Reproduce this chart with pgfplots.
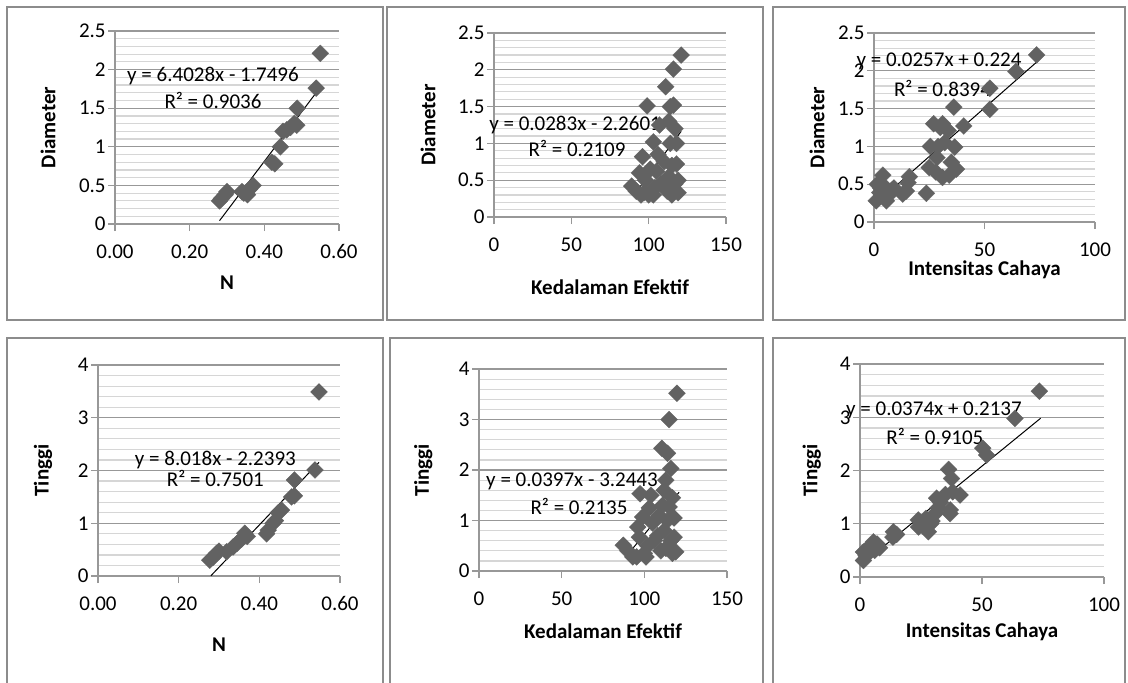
\documentclass[border=0pt]{standalone}
\usepackage{fontspec}
\setmainfont{Carlito}
\usepackage{pgfplots}
\pgfplotsset{compat=1.18}

\definecolor{mk}{HTML}{626262}
\definecolor{gmaj}{HTML}{989898}
\definecolor{gmin}{HTML}{D6D6D6}
\definecolor{frm}{HTML}{8C8C8C}

\newcommand\txt{\fontsize{10.5}{12}\selectfont}

\pgfplotsset{
  excel/.style={
    scale only axis, clip=false, anchor=south west,
    axis x line*=bottom, axis y line*=left,
    axis line style={draw=gmaj, line width=0.6pt, -},
    ymajorgrids, yminorgrids,
    major grid style={draw=gmaj, line width=0.6pt},
    minor grid style={draw=gmin, line width=0.6pt},
    tick align=outside, major tick length=3.5pt, minor tick length=0pt,
    tick style={draw=gmaj, line width=0.6pt},
    every tick label/.append style={font=\txt, text=black},
    /pgf/number format/assume math mode=true,
    xticklabel style={anchor=north, inner sep=0pt, yshift=-6.5pt},
    yticklabel style={anchor=east, inner sep=0pt, xshift=-1pt},
    label style={font=\txt\bfseries},
    xlabel style={anchor=center},
    ylabel style={anchor=center},
  },
  nx/.style={xmin=0, xmax=0.6, xtick={0,0.2,0.4,0.6},
    x tick label style={/pgf/number format/.cd, fixed, fixed zerofill, precision=2},
    xlabel={N}},
  kx/.style={xmin=0, xmax=150, xtick={0,50,100,150}, xlabel={Kedalaman Efektif}},
  ix/.style={xmin=0, xmax=100, xtick={0,50,100}, xlabel={Intensitas Cahaya}},
  dy/.style={ymin=0, ymax=2.5, ytick={0,0.5,1,1.5,2,2.5}, minor y tick num=4, ylabel={Diameter}},
  ty/.style={ymin=0, ymax=4, ytick={0,1,2,3,4}, minor y tick num=4, ylabel={Tinggi}},
  pts/.style={only marks, mark=square*, mark size=3pt,
    mark options={rotate=45, fill=mk, draw=mk, line width=0.1pt}},
  fit/.style={black, line width=0.5pt, no marks},
}

\begin{document}
\begin{tikzpicture}
\path[use as bounding box] (0,0) rectangle (564pt,-341pt);
% panel frames
\draw[frm, line width=1pt] (3.5pt,-3.5pt) rectangle (191.5pt,-160pt);
\draw[frm, line width=1pt] (193.5pt,-3.5pt) rectangle (381.5pt,-160pt);
\draw[frm, line width=1pt] (386.5pt,-3.5pt) rectangle (562.5pt,-160pt);
\draw[frm, line width=1pt] (3.5pt,-169pt) rectangle (191.5pt,-350pt);
\draw[frm, line width=1pt] (195pt,-169pt) rectangle (381.5pt,-350pt);
\draw[frm, line width=1pt] (386.5pt,-169pt) rectangle (562.5pt,-350pt);

% N vs Diameter
\begin{axis}[excel, nx, dy, at={(57.5pt,-112pt)}, width=112pt, height=96.5pt,
  xlabel style={at={(axis description cs:0.5,-0.306)}},
  ylabel style={at={(axis description cs:-0.299,0.5)}}]
\addplot[pts] coordinates {
  (0.280,0.30) (0.285,0.33) (0.295,0.38) (0.300,0.42) (0.340,0.42)
  (0.345,0.40) (0.355,0.38) (0.360,0.45) (0.370,0.50) (0.420,0.80)
  (0.428,0.78) (0.443,1.00) (0.450,1.20) (0.460,1.22) (0.470,1.25)
  (0.480,1.30) (0.487,1.28) (0.488,1.50) (0.539,1.76) (0.550,2.21)};
\addplot[fit] coordinates {(0.28,0.043) (0.55,1.772)};
\node[font=\txt] at (axis cs:0.2625,1.917) {y = 6.4028x - 1.7496};
\node[font=\txt] at (axis cs:0.2625,1.606) {R² = 0.9036};
\end{axis}

% Kedalaman Efektif vs Diameter
\begin{axis}[excel, kx, dy, at={(247pt,-108.5pt)}, width=116pt, height=92pt,
  xlabel style={at={(axis description cs:0.5,-0.380)}},
  ylabel style={at={(axis description cs:-0.284,0.5)}}]
\addplot[pts] coordinates {
  (89,0.42) (92,0.35) (94,0.60) (95,0.30) (96,0.82) (97,0.33) (98,0.50)
  (99,1.51) (100,0.30) (101,0.65) (103,1.02) (103,0.30) (104,0.40)
  (105,0.62) (106,0.85) (107,1.25) (108,0.45) (110,0.75) (111,1.77)
  (112,0.35) (113,1.30) (113,0.55) (114,1.50) (114,1.00) (115,0.70)
  (115,0.30) (116,2.01) (116,1.52) (117,1.20) (117,0.45) (118,1.00)
  (118,0.72) (119,0.33) (119,0.50) (121,2.20)};
\addplot[fit] coordinates {(91,0.315) (121,1.164)};
\node[font=\txt] at (axis cs:52.4,1.25) {y = 0.0283x - 2.2601};
\node[font=\txt] at (axis cs:53.7,0.9375) {R² = 0.2109};
\end{axis}

% Intensitas Cahaya vs Diameter
\begin{axis}[excel, ix, dy, at={(437pt,-111pt)}, width=110.5pt, height=94.5pt,
  xlabel style={at={(axis description cs:0.5,-0.255)}},
  ylabel style={at={(axis description cs:-0.258,0.5)}}]
\addplot[pts] coordinates {
  (1,0.28) (1.5,0.50) (2.6,0.39) (3,0.45) (4,0.62) (4,0.49) (5.6,0.28)
  (6.5,0.35) (8,0.42) (9,0.45) (13,0.37) (14.6,0.41) (15.4,0.52) (16,0.60)
  (23.7,0.38) (25,0.72) (25.5,1.00) (27,1.30) (28,0.66) (28.5,0.85)
  (29,1.00) (30,1.25) (31,0.59) (31,1.30) (32,1.05) (33.5,1.21) (34,0.62)
  (35,0.79) (36.1,1.52) (36.5,0.99) (37.3,0.70) (40.6,1.27) (52.4,1.49)
  (52.4,1.77) (64.2,1.99) (73.6,2.21)};
\addplot[fit] coordinates {(1,0.2497) (74,2.126)};
\node[font=\txt] at (axis cs:29.4,2.12) {y = 0.0257x + 0.224};
\node[font=\txt] at (axis cs:31,1.77) {R² = 0.8394};
\end{axis}

% N vs Tinggi
\begin{axis}[excel, nx, ty, at={(49pt,-288pt)}, width=121pt, height=105.5pt,
  xlabel style={at={(axis description cs:0.5,-0.327)}},
  ylabel style={at={(axis description cs:-0.227,0.5)}}]
\addplot[pts] coordinates {
  (0.277,0.30) (0.285,0.35) (0.294,0.43) (0.300,0.47) (0.319,0.46)
  (0.335,0.55) (0.345,0.62) (0.356,0.70) (0.364,0.81) (0.370,0.75)
  (0.418,0.80) (0.422,0.87) (0.434,1.00) (0.440,1.05) (0.447,1.20)
  (0.455,1.25) (0.480,1.50) (0.487,1.52) (0.487,1.82) (0.538,2.01)
  (0.548,3.49)};
\addplot[fit] coordinates {(0.28,0.0057) (0.548,2.155)};
\node[font=\txt] at (axis cs:0.291,2.20) {y = 8.018x - 2.2393};
\node[font=\txt] at (axis cs:0.291,1.852) {R² = 0.7501};
\end{axis}

% Kedalaman Efektif vs Tinggi
\begin{axis}[excel, kx, ty, at={(239.5pt,-285.5pt)}, width=124pt, height=101pt,
  xlabel style={at={(axis description cs:0.5,-0.300)}},
  ylabel style={at={(axis description cs:-0.225,0.5)}}]
\addplot[pts] coordinates {
  (87.3,0.51) (90,0.40) (93,0.28) (95.4,0.28) (96,0.87) (97,0.67)
  (97.4,1.53) (99,1.07) (100,0.35) (101,0.28) (102,0.50) (103,1.25)
  (104,1.50) (105,0.95) (106,0.60) (108,0.70) (109,1.10) (110,0.40)
  (110.6,2.43) (111,1.30) (112,0.80) (112,1.60) (113,0.45) (113,1.80)
  (114,1.00) (114,2.33) (115,3.00) (115,1.27) (116,0.60) (116,2.03)
  (117,1.45) (117,0.35) (118,1.05) (118,0.67) (119,0.38) (119.7,3.52)};
\addplot[fit] coordinates {(90,0.329) (121,1.559)};
\node[font=\txt] at (axis cs:56.25,1.768) {y = 0.0397x - 3.2443};
\node[font=\txt] at (axis cs:60.5,1.273) {R² = 0.2135};
\end{axis}

% Intensitas Cahaya vs Tinggi
\begin{axis}[excel, ix, ty, at={(430pt,-288.5pt)}, width=122pt, height=106.5pt,
  xlabel style={at={(axis description cs:0.5,-0.257)}},
  ylabel style={at={(axis description cs:-0.198,0.5)}}]
\addplot[pts] coordinates {
  (1.4,0.31) (1.4,0.47) (2.5,0.40) (3.5,0.55) (4.5,0.60) (5.5,0.66)
  (6,0.50) (7,0.62) (8,0.55) (13.7,0.85) (13.5,0.75) (15,0.80)
  (23.9,1.07) (24,0.94) (26,0.95) (27,1.10) (28,0.85) (29,1.00)
  (29.5,1.05) (31,1.20) (31.4,1.48) (32,1.30) (33,1.40) (35,1.55)
  (36.3,2.02) (36.9,1.19) (37,1.26) (37.5,1.85) (38,1.60) (41,1.54)
  (50.3,2.42) (51.9,2.29) (63.5,2.98) (73.5,3.49)};
\addplot[fit] coordinates {(1.4,0.266) (74,2.981)};
\node[font=\txt] at (axis cs:30.3,3.136) {y = 0.0374x + 0.2137};
\node[font=\txt] at (axis cs:30.7,2.648) {R² = 0.9105};
\end{axis}
\end{tikzpicture}
\end{document}
